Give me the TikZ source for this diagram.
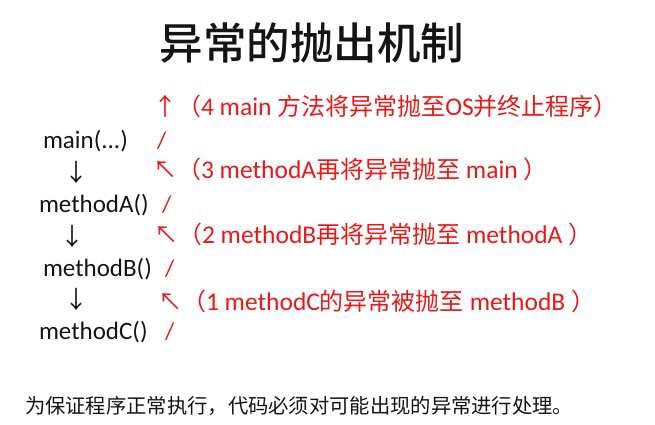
\documentclass[tikz,border=0pt]{standalone}
\usepackage{fontspec}
\setmainfont{Carlito}
\newfontfamily\lat{Carlito}
\newfontfamily\cjk{Noto Sans CJK SC}
\newfontfamily\cjkm{Noto Sans CJK SC Medium}
\definecolor{redtxt}{RGB}{232,24,24}
\definecolor{blktxt}{RGB}{20,20,20}
\tikzset{
  every node/.style={inner sep=0pt, outer sep=0pt, anchor=base west},
  title/.style={font=\cjkm\fontsize{43.5}{48}\selectfont, text=blktxt},
  code/.style={font=\lat\fontsize{25}{30}\selectfont, text=blktxt},
  down/.style={font=\cjk\fontsize{24}{28}\selectfont, text=blktxt},
  note/.style={font=\lat\fontsize{25.5}{28}\selectfont, text=redtxt},
  slash/.style={font=\lat\fontsize{24}{28}\selectfont, text=redtxt},
  foot/.style={font=\cjk\fontsize{20.3}{24}\selectfont, text=blktxt},
}
\newcommand{\zh}{\cjk\fontsize{24}{28}\selectfont}
\begin{document}
\begin{tikzpicture}[x=1pt,y=-1pt]
\useasboundingbox (0,0) rectangle (655,424);
\node[title, anchor=base] (title) at (312,59) {异常的抛出机制};
% left column
\node[code] (main) at (43,148) {main(...)};
\node[down] (d1) at (64,181) {↓};
\node[code] (ma) at (39,212) {methodA()};
\node[down] (d2) at (60,245) {↓};
\node[code] (mb) at (43,276) {methodB()};
\node[down] (d3) at (64,308) {↓};
\node[code] (mc) at (39,339) {methodC()};
% slashes
\node[slash] (s1) at (157,148) {/};
\node[slash] (s2) at (162,212) {/};
\node[slash] (s3) at (165,276) {/};
\node[slash] (s4) at (165,339) {/};
% notes
\node[note] (n4) at (153,115) {{\zh ↑（}4 main {\zh 方法将异常抛至}OS{\zh 并终止程序）}};
\node[note] (n3) at (153,178) {{\zh ↖（}3 methodA{\zh 再将异常抛至} main {\zh ）}};
\node[note] (n2) at (154,243) {{\zh ↖（}2 methodB{\zh 再将异常抛至} methodA {\zh ）}};
\node[note] (n1) at (158,310) {{\zh ↖（}1 methodC{\zh 的异常被抛至} methodB {\zh ）}};
% footer
\node[foot] (foot) at (25,413) {为保证程序正常执行，代码必须对可能出现的异常进行处理。};
\end{tikzpicture}
\end{document}
